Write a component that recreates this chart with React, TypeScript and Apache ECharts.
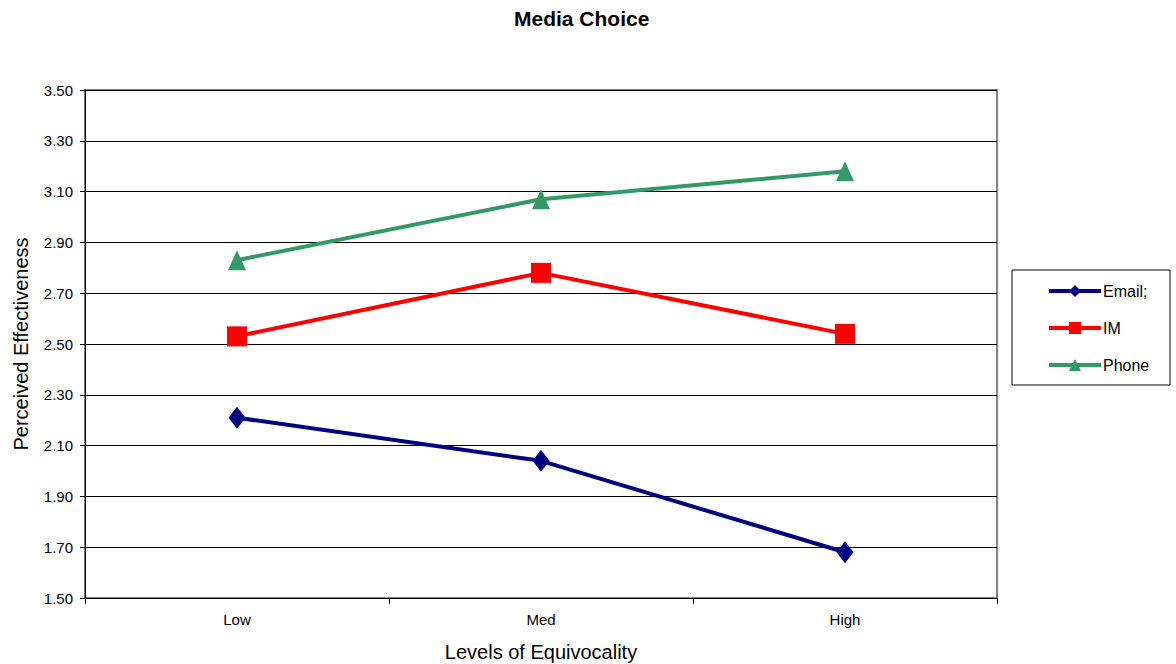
import React, { useEffect, useRef } from "react";
import * as echarts from "echarts";

const categories = ["Low", "Med", "High"];
const emailValues = [2.21, 2.04, 1.68];
const imValues = [2.53, 2.78, 2.54];
const phoneValues = [2.83, 3.07, 3.18];
const seriesNames = ["Email;", "IM", "Phone"];

export default function App() {
  const ref = useRef<HTMLDivElement>(null);
  useEffect(() => {
    if (!ref.current) return;
    const chart = echarts.init(ref.current, undefined, { renderer: "svg" });
    const font = "Arial, 'Liberation Sans', sans-serif";
    chart.setOption({
      animation: false,
      backgroundColor: "#ffffff",
      textStyle: { fontFamily: font },
      title: {
        text: "Media Choice",
        left: 509,
        top: 3,
        textStyle: { fontSize: 21, fontWeight: "bold", color: "#000", fontFamily: font },
      },
      grid: {
        left: 85,
        right: 179,
        top: 90,
        bottom: 66,
        show: true,
        borderColor: "#808080",
        borderWidth: 2,
        backgroundColor: "transparent",
        outerBoundsMode: "none",
        containLabel: false,
      },
      legend: {
        orient: "vertical",
        left: 1047,
        top: 283,
        padding: 0,
        itemGap: 21,
        itemWidth: 52,
        itemHeight: 15,
        lineStyle: { width: 4 },
        textStyle: { fontSize: 16, color: "#000", fontFamily: font, padding: [0, 0, 0, -3] },
        data: seriesNames,
      },
      graphic: [
        {
          type: "rect",
          shape: { x: 1012, y: 270, width: 158, height: 115 },
          style: { fill: "none", stroke: "#000", lineWidth: 1 },
        },
      ],
      xAxis: {
        type: "category",
        data: categories,
        boundaryGap: true,
        name: "Levels of Equivocality",
        nameLocation: "middle",
        nameGap: 44,
        nameTextStyle: { fontSize: 20, color: "#000", fontFamily: font },
        axisLine: { lineStyle: { color: "#000", width: 1 } },
        axisTick: { show: true, inside: false, length: 6, lineStyle: { color: "#000" } },
        axisLabel: { fontSize: 15, color: "#000", margin: 14, fontFamily: font },
      },
      yAxis: {
        type: "value",
        min: 1.5,
        max: 3.5,
        interval: 0.2,
        name: "Perceived Effectiveness",
        nameLocation: "middle",
        nameGap: 54,
        nameTextStyle: { fontSize: 20, color: "#000", fontFamily: font },
        axisLine: { show: true, lineStyle: { color: "#000", width: 1 } },
        axisTick: { show: true, length: 5, lineStyle: { color: "#000" } },
        axisLabel: { fontSize: 15, color: "#000", margin: 12, fontFamily: font, formatter: (v: number) => v.toFixed(2) },
        splitLine: { show: true, lineStyle: { color: "#000", width: 1 } },
      },
      series: [
        {
          name: seriesNames[0],
          type: "line",
          data: emailValues,
          symbol: "diamond",
          symbolSize: [17, 22],
          color: "#000080",
          lineStyle: { width: 4, color: "#000080" },
          itemStyle: { color: "#000080" },
        },
        {
          name: seriesNames[1],
          type: "line",
          data: imValues,
          symbol: "rect",
          symbolSize: 20,
          color: "#ff0000",
          lineStyle: { width: 4, color: "#ff0000" },
          itemStyle: { color: "#ff0000" },
        },
        {
          name: seriesNames[2],
          type: "line",
          data: phoneValues,
          symbol: "triangle",
          symbolSize: [18, 20],
          color: "#339966",
          lineStyle: { width: 4, color: "#339966" },
          itemStyle: { color: "#339966" },
        },
      ],
    });
    return () => chart.dispose();
  }, []);
  return <div ref={ref} style={{ width: 1176, height: 664, position: "absolute", left: 0, top: 0 }} />;
}
